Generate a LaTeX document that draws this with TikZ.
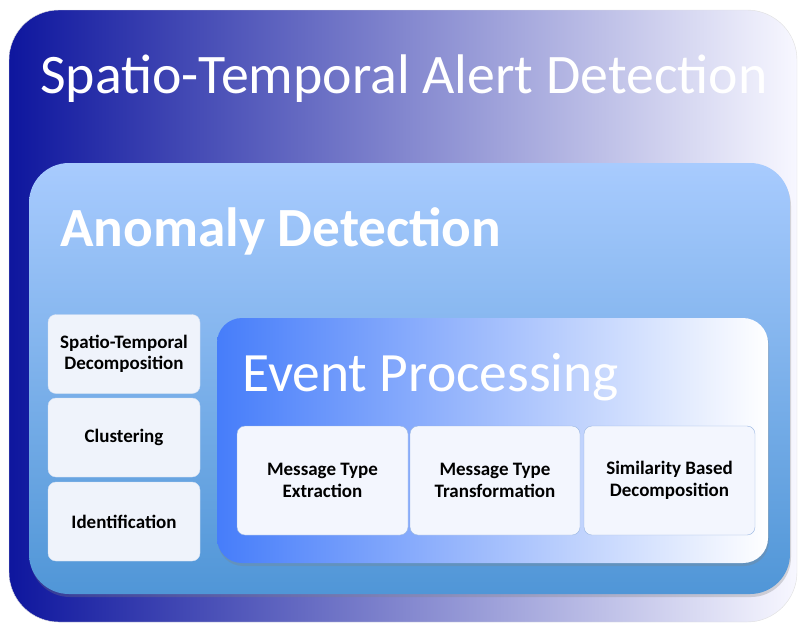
\documentclass[tikz,border=0pt]{standalone}
\usepackage{fontspec}
\setmainfont{Carlito}
\usetikzlibrary{shadows}

\definecolor{alertleft}{RGB}{14,22,158}
\definecolor{alertmid}{RGB}{135,135,205}
\definecolor{anomalytop}{RGB}{168,203,254}
\definecolor{anomalybot}{RGB}{80,150,215}
\definecolor{eventleft}{RGB}{70,125,250}
\definecolor{eventmid}{RGB}{165,190,255}
\definecolor{stepfill}{RGB}{239,243,251}
\definecolor{eventfill}{RGB}{243,246,254}
\definecolor{stepline}{RGB}{150,180,225}

\begin{document}
\begin{tikzpicture}[x=1pt,y=-1pt]
        % Define styles
        \tikzset{
            frame/.style={rectangle, inner sep=0pt},
            alertframe/.style={frame, rounded corners=50pt, left color=alertleft, middle color=alertmid, right color=white!97!blue, draw=gray!25},
            anomalyframe/.style={frame, rounded corners=40pt, top color=anomalytop, bottom color=anomalybot, drop shadow={opacity=0.3, shadow xshift=1pt, shadow yshift=-3pt}},
            eventframe/.style={frame, rounded corners=25pt, left color=eventleft, middle color=eventmid, right color=white, drop shadow={opacity=0.3, shadow xshift=1pt, shadow yshift=-3pt}},
            stepbox/.style={rectangle, rounded corners=8pt, fill=stepfill, draw=stepline!40, align=center, font=\bfseries\fontsize{19}{21.5}\selectfont},
            eventbox/.style={stepbox, draw=stepline, fill=eventfill},
            title/.style={anchor=base west, text=white, inner sep=0pt}
        }
        \useasboundingbox (0,0) rectangle (799,625);

        % Frames
        \node[alertframe, minimum width=788pt, minimum height=612pt] (alert_frame) at (403,316) {};
        \node[anomalyframe, minimum width=761pt, minimum height=431pt] (anomaly_frame) at (409.5,378.5) {};
        \node[eventframe, minimum width=551pt, minimum height=245pt] (event_frame) at (492.5,440.5) {};

        % Titles
        \node[title, font=\fontsize{55.8}{60}\selectfont] (alert_title) at (40,93) {Spatio-Temporal Alert Detection};
        \node[title, font=\bfseries\fontsize{55.3}{60}\selectfont] (anomaly_title) at (60,246) {Anomaly Detection};
        \node[title, font=\fontsize{55.5}{60}\selectfont] (event_title) at (242,391) {Event Processing};

        % Anomaly steps
        \node[stepbox, minimum width=152pt, minimum height=79pt] (decomp_node) at (124,354) {Spatio-Temporal\\Decomposition};
        \node[stepbox, minimum width=152pt, minimum height=79pt] (cluster_node) at (124,437.5) {Clustering};
        \node[stepbox, minimum width=152pt, minimum height=79pt] (ident_node) at (124,521.5) {Identification};

        % Event steps
        \node[eventbox, minimum width=171pt, minimum height=109pt] (extract_node) at (322.5,480.5) {Message Type\\Extraction};
        \node[eventbox, minimum width=170pt, minimum height=109pt] (transform_node) at (495,480.5) {Message Type\\Transformation};
        \node[eventbox, minimum width=171pt, minimum height=109pt] (similar_node) at (669.5,480.5) {Similarity Based\\Decomposition};
    \end{tikzpicture}
\end{document}
